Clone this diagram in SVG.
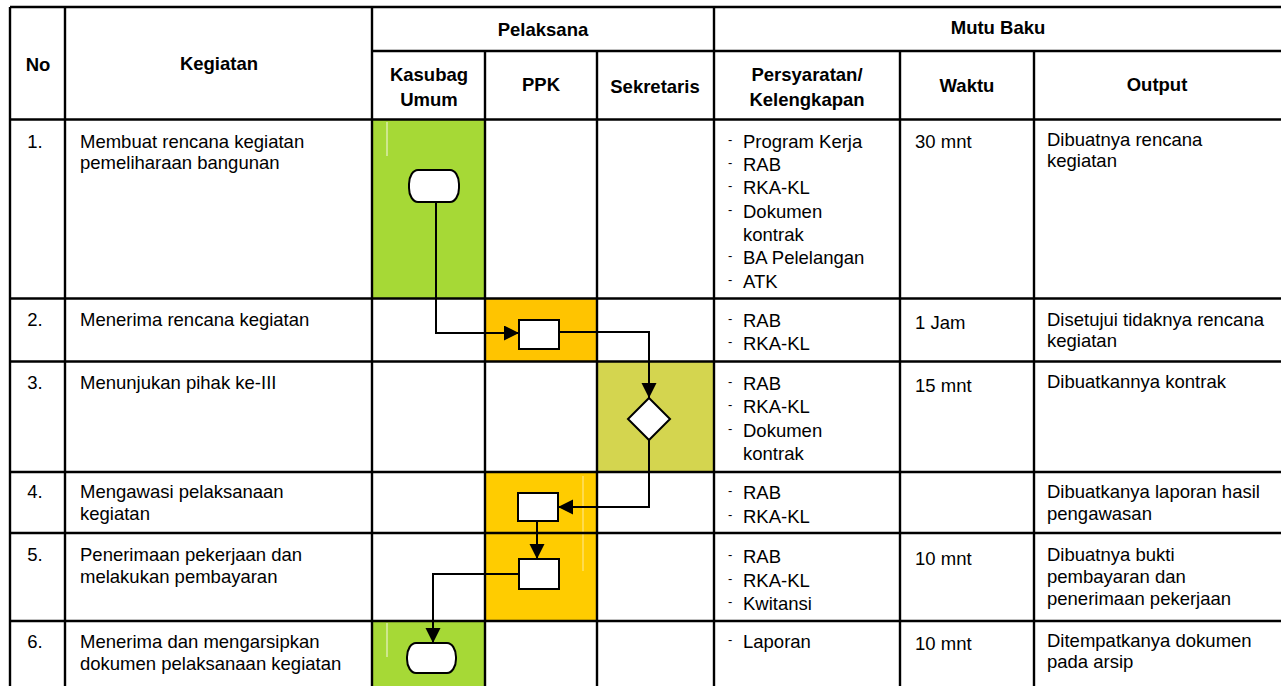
<svg xmlns="http://www.w3.org/2000/svg" width="1281" height="686" viewBox="0 0 1281 686">
<style>
text{font-family:"Liberation Sans",Arial,sans-serif;font-size:18.5px;fill:#000}
.h{font-weight:bold;text-anchor:middle}
.c{text-anchor:middle}
.d{font-size:13px}
.g{stroke:#000;stroke-width:2.4;fill:none}
.sh{fill:#fff;stroke:#000;stroke-width:2}
.cn{fill:none;stroke:#000;stroke-width:2}
.art{stroke:#e8f0c8;stroke-width:1.5;opacity:0.8}
</style>
<defs>
<marker id="ah" markerUnits="userSpaceOnUse" markerWidth="16" markerHeight="16" refX="15" refY="7.5" orient="auto">
<path d="M0,0 L15,7.5 L0,15 z" fill="#000"/>
</marker>
</defs>
<rect width="1281" height="686" fill="#fff"/>
<g id="fills">
<rect x="372" y="120" width="113" height="178" fill="#A6D936"/>
<rect x="485" y="299" width="112" height="63" fill="#FFC400"/>
<rect x="597" y="362" width="117" height="110" fill="#D4D54F"/>
<rect x="485" y="472" width="112" height="149" fill="#FFCC00"/>
<rect x="372" y="621" width="113" height="65" fill="#A6D936"/>
<line class="art" x1="387" y1="122" x2="387" y2="156"/>
<line class="art" x1="387" y1="623" x2="387" y2="657"/>
<line class="art" x1="583" y1="476" x2="583" y2="571" style="stroke:#ffe680"/>
</g>
<g id="grid" class="g">
<line x1="10" y1="7" x2="1281" y2="7"/>
<line x1="372" y1="51" x2="1281" y2="51"/>
<line x1="10" y1="119.5" x2="1281" y2="119.5"/>
<line x1="10" y1="298.5" x2="1281" y2="298.5"/>
<line x1="10" y1="361.5" x2="1281" y2="361.5"/>
<line x1="10" y1="472" x2="1281" y2="472"/>
<line x1="10" y1="533" x2="1281" y2="533"/>
<line x1="10" y1="621" x2="1281" y2="621"/>
<line x1="10" y1="7" x2="10" y2="686"/>
<line x1="65" y1="7" x2="65" y2="686"/>
<line x1="372" y1="7" x2="372" y2="686"/>
<line x1="714" y1="7" x2="714" y2="686"/>
<line x1="485" y1="51" x2="485" y2="686"/>
<line x1="597" y1="51" x2="597" y2="686"/>
<line x1="900" y1="51" x2="900" y2="686"/>
<line x1="1034" y1="51" x2="1034" y2="686"/>
</g>
<g id="header">
<text class="h" x="38" y="71">No</text>
<text class="h" x="219" y="70">Kegiatan</text>
<text class="h" x="543" y="36">Pelaksana</text>
<text class="h" x="998" y="34">Mutu Baku</text>
<text class="h" x="429" y="81">Kasubag</text>
<text class="h" x="429" y="106">Umum</text>
<text class="h" x="541" y="91">PPK</text>
<text class="h" x="655" y="93">Sekretaris</text>
<text class="h" x="807" y="81">Persyaratan/</text>
<text class="h" x="807" y="106">Kelengkapan</text>
<text class="h" x="967" y="92">Waktu</text>
<text class="h" x="1157" y="91">Output</text>
</g>
<g id="no">
<text class="c" x="35" y="148">1.</text>
<text class="c" x="35" y="326">2.</text>
<text class="c" x="35" y="389">3.</text>
<text class="c" x="35" y="498">4.</text>
<text class="c" x="35" y="561">5.</text>
<text class="c" x="35" y="648">6.</text>
</g>
<g id="kegiatan">
<text x="80" y="148">Membuat rencana kegiatan</text>
<text x="80" y="169">pemeliharaan bangunan</text>
<text x="80" y="326">Menerima rencana kegiatan</text>
<text x="80" y="389">Menunjukan pihak ke-III</text>
<text x="80" y="498">Mengawasi pelaksanaan</text>
<text x="80" y="520">kegiatan</text>
<text x="80" y="561">Penerimaan pekerjaan dan</text>
<text x="80" y="583">melakukan pembayaran</text>
<text x="80" y="648">Menerima dan mengarsipkan</text>
<text x="80" y="670">dokumen pelaksanaan kegiatan</text>
</g>
<g id="persyaratan">
<text class="d" x="728" y="144">-</text><text x="743" y="148">Program Kerja</text>
<text class="d" x="728" y="167">-</text><text x="743" y="171">RAB</text>
<text class="d" x="728" y="190">-</text><text x="743" y="194">RKA-KL</text>
<text class="d" x="728" y="214">-</text><text x="743" y="218">Dokumen</text>
<text x="743" y="241">kontrak</text>
<text class="d" x="728" y="260">-</text><text x="743" y="264">BA Pelelangan</text>
<text class="d" x="728" y="284">-</text><text x="743" y="288">ATK</text>
<text class="d" x="728" y="323">-</text><text x="743" y="327">RAB</text>
<text class="d" x="728" y="346">-</text><text x="743" y="350">RKA-KL</text>
<text class="d" x="728" y="386">-</text><text x="743" y="390">RAB</text>
<text class="d" x="728" y="409">-</text><text x="743" y="413">RKA-KL</text>
<text class="d" x="728" y="433">-</text><text x="743" y="437">Dokumen</text>
<text x="743" y="460">kontrak</text>
<text class="d" x="728" y="495">-</text><text x="743" y="499">RAB</text>
<text class="d" x="728" y="519">-</text><text x="743" y="523">RKA-KL</text>
<text class="d" x="728" y="559">-</text><text x="743" y="563">RAB</text>
<text class="d" x="728" y="583">-</text><text x="743" y="587">RKA-KL</text>
<text class="d" x="728" y="606">-</text><text x="743" y="610">Kwitansi</text>
<text class="d" x="728" y="644">-</text><text x="743" y="648">Laporan</text>
</g>
<g id="waktu">
<text x="915" y="148">30 mnt</text>
<text x="915" y="329">1 Jam</text>
<text x="915" y="392">15 mnt</text>
<text x="915" y="565">10 mnt</text>
<text x="915" y="650">10 mnt</text>
</g>
<g id="output">
<text x="1047" y="146">Dibuatnya rencana</text>
<text x="1047" y="167">kegiatan</text>
<text x="1047" y="326">Disetujui tidaknya rencana</text>
<text x="1047" y="347">kegiatan</text>
<text x="1047" y="388">Dibuatkannya kontrak</text>
<text x="1047" y="498">Dibuatkanya laporan hasil</text>
<text x="1047" y="520">pengawasan</text>
<text x="1047" y="561">Dibuatnya bukti</text>
<text x="1047" y="583">pembayaran dan</text>
<text x="1047" y="605">penerimaan pekerjaan</text>
<text x="1047" y="647">Ditempatkanya dokumen</text>
<text x="1047" y="668">pada arsip</text>
</g>
<g id="connectors">
<path class="cn" d="M436,202 V333 H519" marker-end="url(#ah)"/>
<path class="cn" d="M559,332 H649 V398" marker-end="url(#ah)"/>
<path class="cn" d="M649,440 V507 H558" marker-end="url(#ah)"/>
<path class="cn" d="M537,521 V559" marker-end="url(#ah)"/>
<path class="cn" d="M519,574 H433 V643" marker-end="url(#ah)"/>
</g>
<g id="start"><rect class="sh" x="409" y="170" width="50" height="32" rx="9" ry="14"/></g>
<g id="terima"><rect class="sh" x="519" y="320" width="40" height="29"/></g>
<g id="tunjuk"><path class="sh" d="M649,398 L670,419 L649,440 L628,419 z"/></g>
<g id="awasi"><rect class="sh" x="518" y="493" width="40" height="28"/></g>
<g id="bayar"><rect class="sh" x="519" y="559" width="40" height="30"/></g>
<g id="arsip"><rect class="sh" x="407" y="643" width="49" height="30" rx="9" ry="14"/></g>
</svg>
